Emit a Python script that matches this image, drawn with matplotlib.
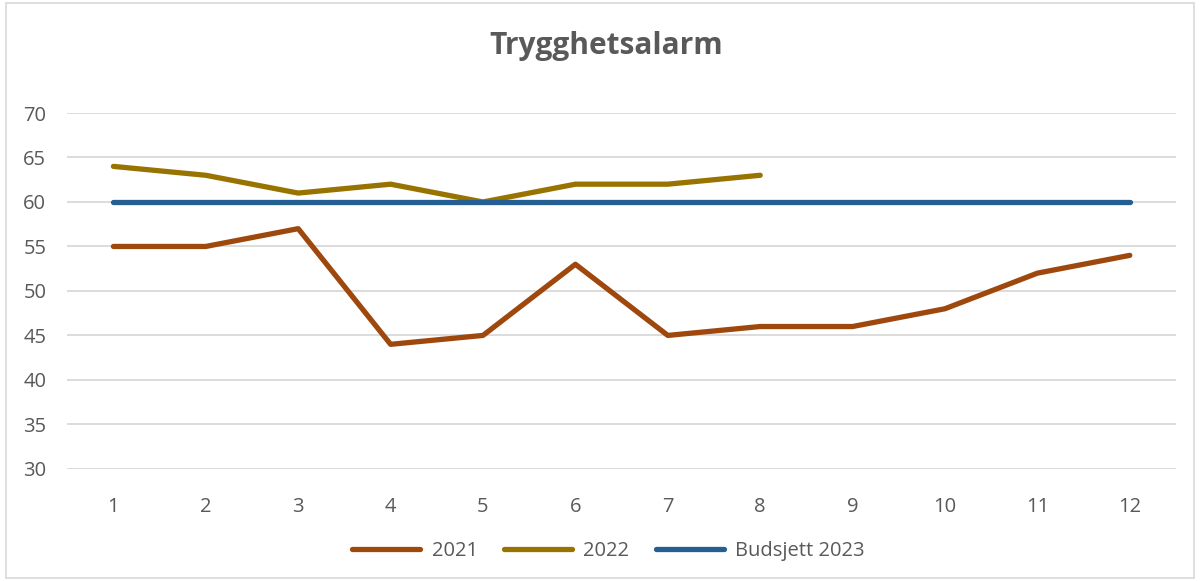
import matplotlib
matplotlib.use("Agg")
import matplotlib.pyplot as plt
from matplotlib.patches import Rectangle

plt.rcParams['font.family'] = ['Open Sans', 'DejaVu Sans']

months = [1, 2, 3, 4, 5, 6, 7, 8, 9, 10, 11, 12]
y2021 = [55, 55, 57, 44, 45, 53, 45, 46, 46, 48, 52, 54]
y2022 = [64, 63, 61, 62, 60, 62, 62, 63]
budget2023 = [60] * 12
series_names = ["2021", "2022", "Budsjett 2023"]
colors = ["#9E480E", "#997300", "#255E91"]

fig = plt.figure(figsize=(12, 5.81), dpi=100)
ax = fig.add_axes([0.056, 0.193, 0.924, 0.6125])

lw = 3.8
ax.plot(months, y2021, color=colors[0], lw=lw, solid_capstyle='round', solid_joinstyle='round', label=series_names[0])
ax.plot(months[:len(y2022)], y2022, color=colors[1], lw=lw, solid_capstyle='round', solid_joinstyle='round', label=series_names[1])
ax.plot(months, budget2023, color=colors[2], lw=lw, solid_capstyle='round', solid_joinstyle='round', label=series_names[2])

ax.set_xlim(0.5, 12.5)
ax.set_ylim(30, 70)
ax.set_yticks(range(30, 71, 5))
ax.set_xticks(months)
ax.grid(axis='y', color='#D9D9D9', lw=1.3)
ax.set_axisbelow(True)
for s in ax.spines.values():
    s.set_visible(False)
ax.tick_params(axis='both', length=0, labelsize=14.5, labelcolor='#595959')
ax.tick_params(axis='x', pad=20)
ax.tick_params(axis='y', pad=15)

fig.text(0.505, 0.92, "Trygghetsalarm", ha='center', va='center', fontsize=21.5, fontweight='bold', color='#595959')

leg = fig.legend(loc='center', bbox_to_anchor=(0.507, 0.052), ncol=3, frameon=False,
                 fontsize=14.5, handlelength=3.4, columnspacing=1.3, handletextpad=0.55)
for t in leg.get_texts():
    t.set_color('#595959')

fig.patches.append(Rectangle((0.005, 0.005), 0.99, 0.99, transform=fig.transFigure,
                             fill=False, edgecolor='#D9D9D9', lw=1.2))

fig.savefig("out.png", dpi=100)
